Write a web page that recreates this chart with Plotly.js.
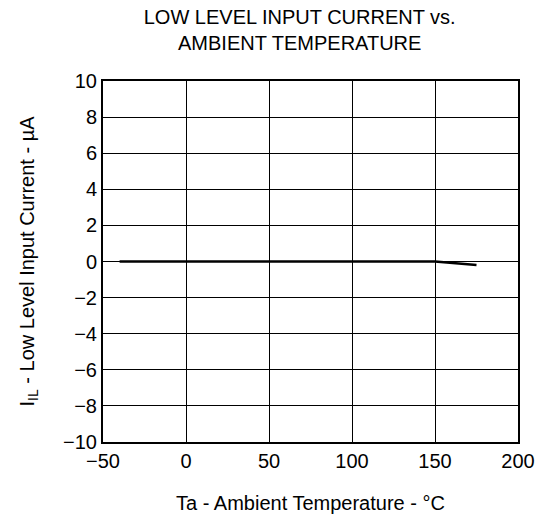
<!DOCTYPE html>
<html><head><meta charset="utf-8">
<script src="https://cdn.plot.ly/plotly-3.0.1.min.js"></script>
<style>html,body{margin:0;padding:0;background:#fff}#c{width:542px;height:517px}</style>
</head><body><div id="c"></div>
<script>
const temperature = [-40, 0, 50, 100, 150, 175];
const current = [0, 0, 0, 0, 0, -0.2];
const xTicks = [-50, 0, 50, 100, 150, 200];
const xTickText = ['\u221250', '0', '50', '100', '150', '200'];
const yTicks = [-10, -8, -6, -4, -2, 0, 2, 4, 6, 8, 10];
const yTickText = ['\u221210', '\u22128', '\u22126', '\u22124', '\u22122', '0', '2', '4', '6', '8', '10'];

const font = {family: 'Liberation Sans, Arial, sans-serif', size: 20, color: '#000'};
Plotly.newPlot('c', [{
  x: temperature, y: current, type: 'scatter', mode: 'lines',
  line: {color: '#000', width: 2.5}, hoverinfo: 'skip'
}], {
  width: 542, height: 517,
  margin: {l: 103, r: 24, t: 81, b: 75},
  paper_bgcolor: '#fff', plot_bgcolor: '#fff',
  font: font,
  showlegend: false,
  title: {text: 'LOW LEVEL INPUT CURRENT vs.<br>AMBIENT TEMPERATURE', x: 0.553, xanchor: 'center', y: 0.953, yanchor: 'top', font: font},
  xaxis: {
    range: [-50, 200], tickvals: xTicks, ticktext: xTickText,
    showgrid: true, gridcolor: '#000', gridwidth: 1,
    zeroline: false, showline: true, linecolor: '#000', linewidth: 2, mirror: true,
    ticks: '', tickfont: font,
    title: {text: 'Ta - Ambient Temperature - °C', font: font, standoff: 25}
  },
  yaxis: {
    range: [-10, 10], tickvals: yTicks, ticktext: yTickText,
    showgrid: true, gridcolor: '#000', gridwidth: 1,
    zeroline: false, showline: true, linecolor: '#000', linewidth: 2, mirror: true,
    ticks: '', tickfont: font,
    title: {text: 'I<sub>IL</sub> - Low Level Input Current - µA', font: font, standoff: 23}
  }
}, {staticPlot: true, displayModeBar: false});
</script></body></html>
